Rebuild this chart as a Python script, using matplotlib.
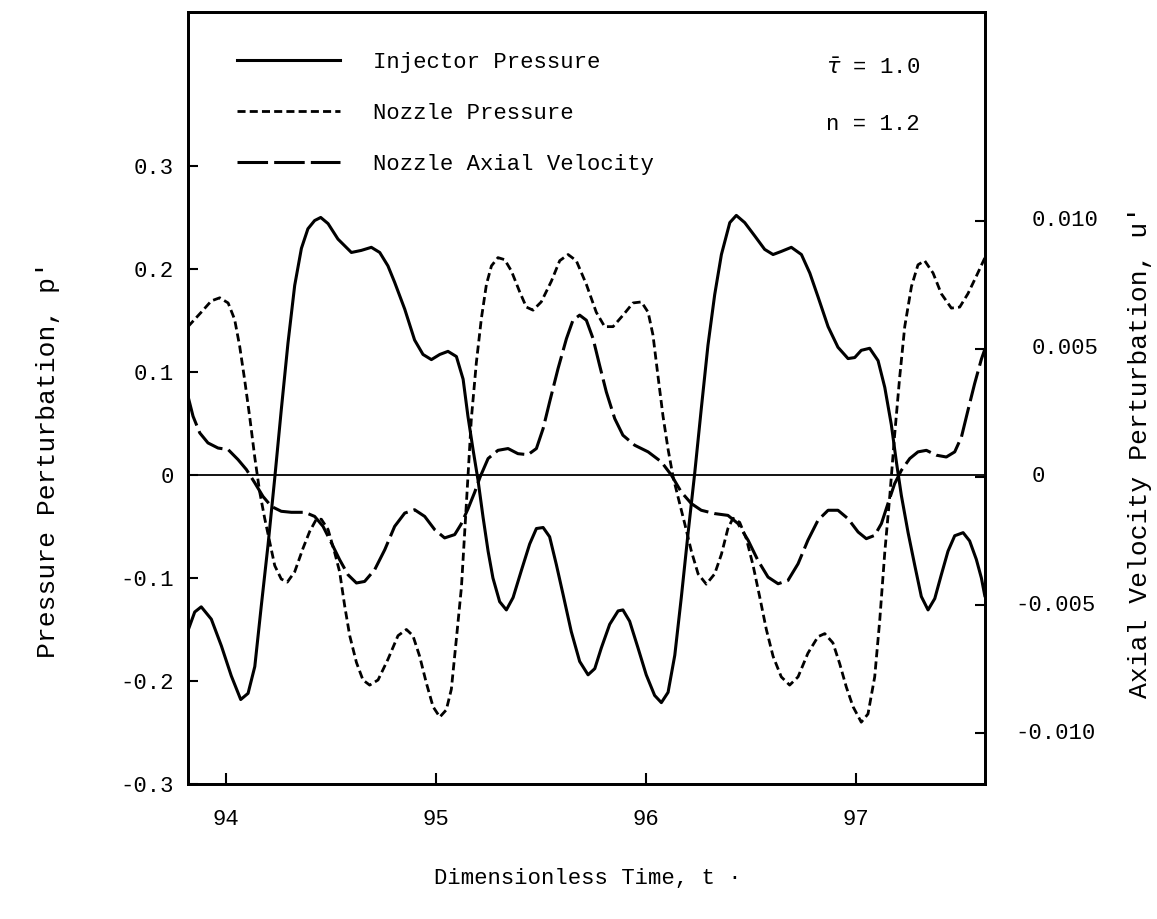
import matplotlib
matplotlib.use('Agg')
import matplotlib.pyplot as plt
from matplotlib.lines import Line2D

# ---------------- data ----------------
t_inj = [93.819, 93.851, 93.882, 93.930, 93.978, 94.025, 94.070, 94.105, 94.137, 94.168,
         94.200, 94.232, 94.263, 94.295, 94.327, 94.359, 94.390, 94.422, 94.451, 94.486,
         94.533, 94.597, 94.644, 94.692, 94.732, 94.771, 94.803, 94.851, 94.898, 94.938,
         94.978, 95.018, 95.057, 95.097, 95.129, 95.152, 95.176, 95.200, 95.224, 95.248,
         95.271, 95.303, 95.335, 95.367, 95.406, 95.446, 95.478, 95.510, 95.541, 95.573,
         95.605, 95.644, 95.684, 95.724, 95.756, 95.787, 95.827, 95.867, 95.890, 95.922,
         95.962, 96.001, 96.041, 96.073, 96.105, 96.137, 96.168, 96.200, 96.232, 96.263,
         96.295, 96.327, 96.359, 96.399, 96.430, 96.470, 96.518, 96.565, 96.605, 96.644,
         96.692, 96.740, 96.780, 96.819, 96.867, 96.914, 96.962, 96.994, 97.025, 97.065,
         97.105, 97.137, 97.168, 97.192, 97.216, 97.248, 97.280, 97.311, 97.343, 97.375,
         97.406, 97.438, 97.470, 97.510, 97.541, 97.573, 97.597, 97.614]
p_inj = [-0.151, -0.133, -0.128, -0.140, -0.166, -0.195, -0.218, -0.212, -0.186, -0.127,
         -0.068, -0.003, 0.063, 0.128, 0.184, 0.220, 0.239, 0.247, 0.250, 0.244,
         0.229, 0.216, 0.218, 0.221, 0.216, 0.203, 0.187, 0.161, 0.131, 0.117,
         0.112, 0.117, 0.120, 0.115, 0.093, 0.057, 0.025, -0.005, -0.041, -0.074,
         -0.100, -0.123, -0.131, -0.119, -0.093, -0.067, -0.052, -0.051, -0.060, -0.087,
         -0.116, -0.152, -0.181, -0.194, -0.188, -0.168, -0.145, -0.132, -0.131, -0.142,
         -0.168, -0.194, -0.214, -0.221, -0.211, -0.175, -0.119, -0.057, 0.002, 0.064,
         0.126, 0.175, 0.214, 0.245, 0.252, 0.245, 0.232, 0.219, 0.214, 0.217,
         0.221, 0.214, 0.196, 0.173, 0.144, 0.124, 0.113, 0.114, 0.121, 0.123,
         0.111, 0.085, 0.049, 0.013, -0.020, -0.056, -0.088, -0.118, -0.131, -0.120,
         -0.097, -0.074, -0.059, -0.056, -0.064, -0.082, -0.100, -0.118]

t_noz = [93.819, 93.882, 93.930, 93.970, 94.010, 94.041, 94.065, 94.089, 94.113, 94.137,
         94.160, 94.184, 94.208, 94.232, 94.263, 94.292, 94.327, 94.367, 94.398, 94.430,
         94.454, 94.486, 94.517, 94.541, 94.565, 94.589, 94.621, 94.652, 94.684, 94.724,
         94.771, 94.819, 94.859, 94.890, 94.922, 94.954, 94.986, 95.018, 95.049, 95.073,
         95.097, 95.121, 95.137, 95.152, 95.168, 95.192, 95.216, 95.240, 95.264, 95.295,
         95.327, 95.359, 95.398, 95.430, 95.462, 95.501, 95.549, 95.589, 95.629, 95.668,
         95.716, 95.763, 95.803, 95.843, 95.890, 95.938, 95.978, 96.010, 96.033, 96.057,
         96.081, 96.105, 96.129, 96.152, 96.184, 96.216, 96.248, 96.287, 96.327, 96.359,
         96.390, 96.414, 96.446, 96.478, 96.510, 96.541, 96.573, 96.605, 96.644, 96.684,
         96.724, 96.771, 96.819, 96.851, 96.890, 96.922, 96.954, 96.986, 97.025, 97.057,
         97.089, 97.113, 97.137, 97.161, 97.184, 97.208, 97.232, 97.264, 97.295, 97.327,
         97.367, 97.406, 97.454, 97.494, 97.533, 97.573, 97.614]
p_noz = [0.144, 0.158, 0.169, 0.172, 0.167, 0.151, 0.125, 0.092, 0.056, 0.017,
         -0.016, -0.042, -0.065, -0.088, -0.101, -0.104, -0.094, -0.071, -0.055, -0.043,
         -0.043, -0.053, -0.075, -0.094, -0.127, -0.156, -0.182, -0.199, -0.204, -0.199,
         -0.179, -0.156, -0.150, -0.156, -0.176, -0.202, -0.225, -0.235, -0.228, -0.208,
         -0.159, -0.109, -0.054, -0.002, 0.054, 0.109, 0.152, 0.185, 0.203, 0.211,
         0.209, 0.198, 0.178, 0.163, 0.160, 0.168, 0.188, 0.208, 0.214, 0.208,
         0.185, 0.158, 0.144, 0.144, 0.155, 0.167, 0.168, 0.158, 0.136, 0.096,
         0.057, 0.025, -0.002, -0.021, -0.047, -0.074, -0.096, -0.106, -0.096, -0.077,
         -0.052, -0.042, -0.046, -0.062, -0.088, -0.118, -0.150, -0.176, -0.196, -0.204,
         -0.196, -0.173, -0.157, -0.154, -0.163, -0.183, -0.206, -0.225, -0.240, -0.232,
         -0.196, -0.141, -0.075, -0.020, 0.039, 0.095, 0.144, 0.183, 0.204, 0.208,
         0.196, 0.176, 0.162, 0.163, 0.176, 0.193, 0.211]

t_vel = [93.819, 93.843, 93.875, 93.914, 93.962, 94.010, 94.057, 94.097, 94.137, 94.176,
         94.216, 94.263, 94.311, 94.375, 94.422, 94.462, 94.502, 94.541, 94.581, 94.621,
         94.660, 94.708, 94.756, 94.803, 94.851, 94.898, 94.946, 94.994, 95.041, 95.089,
         95.119, 95.152, 95.184, 95.210, 95.248, 95.295, 95.343, 95.390, 95.438, 95.478,
         95.510, 95.541, 95.581, 95.621, 95.652, 95.684, 95.716, 95.748, 95.779, 95.811,
         95.851, 95.890, 95.946, 96.010, 96.073, 96.121, 96.168, 96.216, 96.263, 96.327,
         96.390, 96.438, 96.486, 96.533, 96.581, 96.629, 96.676, 96.724, 96.771, 96.819,
         96.867, 96.914, 96.962, 97.010, 97.049, 97.089, 97.121, 97.152, 97.184, 97.216,
         97.256, 97.295, 97.335, 97.383, 97.430, 97.470, 97.502, 97.533, 97.565, 97.597,
         97.614]
u_vel = [0.00315, 0.00237, 0.00172, 0.00133, 0.00113, 0.00107, 0.00068, 0.00029, -0.00023, -0.00076,
         -0.00115, -0.00134, -0.00138, -0.00138, -0.00154, -0.00193, -0.00258, -0.00323, -0.00382, -0.00414,
         -0.00408, -0.00362, -0.00284, -0.00193, -0.00141, -0.00128, -0.00154, -0.00206, -0.00238, -0.00225,
         -0.00185, -0.00125, -0.00060, 0.00000, 0.00072, 0.00104, 0.00111, 0.00091, 0.00087, 0.00111,
         0.00189, 0.00293, 0.00423, 0.00540, 0.00612, 0.00632, 0.00612, 0.00540, 0.00436, 0.00332,
         0.00228, 0.00163, 0.00124, 0.00098, 0.00059, 0.00007, -0.00059, -0.00104, -0.00130, -0.00143,
         -0.00150, -0.00182, -0.00247, -0.00326, -0.00391, -0.00417, -0.00404, -0.00339, -0.00247, -0.00169,
         -0.00130, -0.00130, -0.00163, -0.00215, -0.00241, -0.00228, -0.00182, -0.00104, -0.00026, 0.00026,
         0.00072, 0.00098, 0.00104, 0.00085, 0.00078, 0.00098, 0.00156, 0.00260, 0.00365, 0.00460,
         0.00500]

x_ticks = [94, 95, 96, 97]
x_ticklabels = ['94', '95', '96', '97']
left_ticks = [-0.3, -0.2, -0.1, 0, 0.1, 0.2, 0.3]
left_ticklabels = ['-0.3', '-0.2', '-0.1', '0', '0.1', '0.2', '0.3']
right_ticks = [-0.010, -0.005, 0, 0.005, 0.010]
right_ticklabels = ['-0.010', '-0.005', '0', '0.005', '0.010']
series_labels = ['Injector Pressure', 'Nozzle Pressure', 'Nozzle Axial Velocity']

# ---------------- styling ----------------
FONT = 'Liberation Mono'
plt.rcParams['font.family'] = [FONT, 'DejaVu Sans']
FS = 16

fig = plt.figure(figsize=(11.57, 9.19), dpi=100)
ax = fig.add_axes([0.1625, 0.1469, 0.6888, 0.8401])
ax2 = ax.twinx()

lw = 2.2
ls_noz = (0, (2.9, 1.5))
ls_vel = (0, (10, 2))

ax.plot(t_inj, p_inj, color='black', lw=lw, solid_capstyle='round', solid_joinstyle='round')
ax.plot(t_noz, p_noz, color='black', lw=2.0, linestyle=ls_noz)
ax2.plot(t_vel, u_vel, color='black', lw=lw, linestyle=ls_vel)

ax.axhline(0, color='black', lw=1.3)

ax.set_xlim(93.819, 97.614)
ax.set_ylim(-0.300, 0.4495)
ax2.set_ylim(-0.01199, 0.01816)

for a in (ax, ax2):
    for s in a.spines.values():
        s.set_linewidth(2.0)

ax.set_xticks(x_ticks)
ax.set_xticklabels(x_ticklabels, fontsize=FS)
ax.set_yticks(left_ticks)
ax.set_yticklabels(left_ticklabels, fontsize=FS)
ax.tick_params(axis='x', direction='in', length=8, width=1.5, pad=18)
ax.tick_params(axis='y', direction='in', length=7, width=1.5, pad=10)

ax2.set_yticks(right_ticks)
ax2.set_yticklabels([''] * len(right_ticks))
ax2.tick_params(axis='y', direction='in', length=7, width=1.5)
for val, lab in zip(right_ticks, right_ticklabels):
    xoff = 1.059 if not lab.startswith('-') else 1.038
    ax2.text(xoff, val, lab, transform=ax2.get_yaxis_transform(),
             ha='left', va='center', fontsize=FS, family=FONT)

# legend
handles = [Line2D([], [], color='black', lw=lw),
           Line2D([], [], color='black', lw=2.0, linestyle=ls_noz),
           Line2D([], [], color='black', lw=lw, linestyle=ls_vel)]
leg = ax.legend(handles, series_labels, loc='upper left', bbox_to_anchor=(0.062, 0.9485),
                frameon=False, fontsize=FS, handlelength=4.6, handletextpad=1.5,
                labelspacing=1.36, borderpad=0, borderaxespad=0)

ax.text(0.800, 0.927, r'$\bar{\tau}$ = 1.0', transform=ax.transAxes, fontsize=FS,
        family=FONT, va='center', ha='left')
ax.text(0.800, 0.854, 'n = 1.2', transform=ax.transAxes, fontsize=FS,
        family=FONT, va='center', ha='left')

fig.text(48 / 1157, 1 - 460 / 919, "Pressure Perturbation, p'", rotation=90,
         ha='center', va='center', fontsize=19, family=FONT)
fig.text(1140 / 1157, 1 - 452 / 919, "Axial Velocity Perturbation, u'", rotation=90,
         ha='center', va='center', fontsize=19, family=FONT)
fig.text(588 / 1157, 1 - 878 / 919, "Dimensionless Time, t \u00b7",
         ha='center', va='center', fontsize=FS, family=FONT)

fig.savefig('out.png', dpi=100)
